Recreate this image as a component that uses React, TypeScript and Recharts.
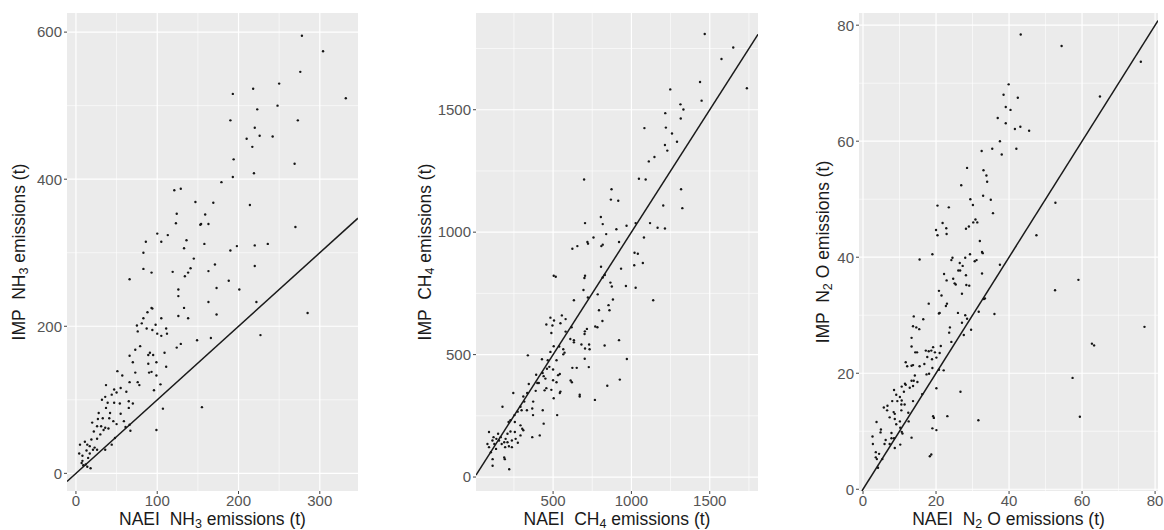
import { ScatterChart, Scatter, XAxis, YAxis, CartesianGrid, ReferenceLine } from 'recharts'

const FONT = '"Liberation Sans", Arial, Helvetica, sans-serif'

// NH3 (t): NAEI on x, IMP on y
const nh3Naei = [
  278, 304, 276, 332, 250, 218, 193, 248, 223, 190, 273, 220, 210, 226, 242, 217, 194, 269, 193, 219,
  179, 121, 129, 147, 169, 214, 124, 159, 123, 153, 154, 163, 270, 100, 113, 86, 105, 136, 158, 133,
  198, 220, 236, 83, 190, 145, 66, 93, 83, 119, 141, 138, 171, 163, 220, 134, 188, 201, 126, 173,
  126, 163, 222, 93, 88, 94, 133, 126, 138, 173, 285, 83, 81, 75, 76, 87, 94, 105, 98, 100,
  105, 111, 112, 227, 149, 166, 79, 124, 129, 73, 66, 89, 91, 95, 109, 70, 89, 99, 111, 51,
  57, 73, 90, 93, 99, 66, 76, 78, 104, 37, 96, 47, 55, 50, 62, 36, 44, 65, 70, 32,
  39, 47, 54, 37, 65, 107, 155, 28, 42, 55, 59, 20, 27, 33, 41, 46, 50, 26, 31, 36,
  34, 40, 61, 66, 67, 22, 30, 99, 48, 26, 44, 36, 19, 14, 17, 23, 26, 5, 11, 4,
  8, 13, 15, 17, 21, 7, 9, 12, 18, 14, 8,
]
const nh3Imp = [
  595, 574, 546, 510, 530, 523, 516, 500, 495, 480, 480, 470, 455, 459, 458, 444, 427, 421, 403, 408,
  396, 385, 387, 369, 368, 365, 353, 352, 340, 338, 339, 339, 335, 326, 324, 315, 315, 317, 312, 306,
  309, 310, 312, 300, 303, 292, 264, 273, 278, 274, 279, 273, 284, 275, 282, 268, 262, 250, 250, 252,
  241, 233, 233, 225, 219, 224, 225, 214, 211, 216, 218, 211, 204, 201, 193, 197, 195, 211, 202, 190,
  187, 197, 190, 188, 181, 184, 173, 171, 176, 168, 160, 161, 164, 161, 164, 151, 149, 151, 145, 139,
  133, 137, 137, 138, 133, 124, 124, 120, 121, 120, 113, 114, 116, 110, 111, 104, 107, 98, 95, 100,
  96, 96, 95, 89, 89, 88, 90, 82, 82, 81, 71, 69, 74, 75, 75, 71, 67, 64, 64, 62,
  59, 61, 63, 66, 58, 57, 53, 59, 48, 47, 39, 32, 46, 39, 37, 35, 32, 39, 43, 27,
  24, 31, 21, 27, 32, 14, 11, 12, 7, 9, 17,
]

// CH4 (t)
const ch4Naei = [
  1468, 1650, 1575, 1737, 1438, 1248, 1448, 1313, 1332, 1216, 1315, 1083, 1220, 1259, 1291, 1214, 1229, 1147, 1111, 1048,
  1091, 698, 1317, 1325, 1203, 873, 869, 916, 805, 704, 817, 1027, 1119, 1167, 1214, 969, 904, 839, 758, 1080,
  719, 723, 921, 817, 808, 623, 655, 1020, 1041, 1073, 1018, 806, 934, 830, 704, 700, 504, 517, 817, 866,
  875, 965, 1027, 694, 1139, 722, 633, 785, 882, 854, 793, 860, 815, 556, 580, 483, 506, 457, 496, 547,
  618, 769, 783, 716, 703, 701, 580, 489, 610, 633, 633, 921, 504, 539, 681, 730, 829, 704, 565, 733,
  483, 339, 573, 702, 971, 522, 429, 466, 476, 392, 433, 461, 500, 543, 532, 623, 651, 728, 565, 451,
  500, 522, 612, 620, 926, 457, 489, 846, 446, 504, 543, 547, 670, 670, 767, 399, 440, 409, 389, 345,
  335, 373, 310, 316, 333, 246, 177, 292, 299, 274, 254, 228, 216, 256, 292, 303, 367, 372, 434, 440,
  526, 415, 367, 310, 256, 228, 209, 292, 261, 275, 209, 197, 237, 149, 166, 138, 155, 172, 194, 218,
  237, 91, 120, 113, 81, 125, 91, 103, 114, 188, 192, 114, 220, 136, 188,
]
const ch4Imp = [
  1809, 1754, 1707, 1588, 1613, 1583, 1537, 1522, 1501, 1486, 1464, 1425, 1427, 1403, 1369, 1356, 1333, 1307, 1289, 1218,
  1215, 1215, 1175, 1098, 1109, 1175, 1133, 1128, 1062, 1037, 1033, 1037, 1037, 1018, 1015, 1026, 1012, 992, 978, 978,
  960, 953, 960, 949, 943, 932, 943, 916, 912, 874, 865, 859, 851, 825, 822, 813, 822, 818, 815, 794,
  778, 780, 773, 764, 722, 733, 722, 746, 725, 702, 681, 681, 637, 660, 645, 651, 639, 623, 619, 628,
  612, 615, 612, 605, 595, 584, 594, 588, 564, 559, 550, 559, 534, 533, 541, 541, 537, 525, 522, 522,
  511, 497, 508, 483, 482, 477, 481, 477, 450, 418, 425, 442, 439, 421, 416, 446, 446, 449, 501, 402,
  395, 387, 394, 387, 398, 363, 356, 373, 354, 322, 343, 349, 329, 336, 315, 384, 412, 384, 352, 380,
  343, 308, 329, 308, 273, 343, 287, 287, 273, 267, 253, 232, 225, 225, 211, 197, 280, 253, 273, 218,
  253, 170, 163, 191, 184, 186, 177, 170, 156, 140, 142, 156, 149, 177, 163, 156, 149, 135, 122, 126,
  122, 184, 163, 149, 135, 135, 122, 101, 73, 80, 73, 46, 32, 115, 142,
]

// N2O (t)
const n2oNaei = [
  43.2, 54.4, 76.1, 39.9, 38.5, 42.4, 64.9, 39.1, 40.4, 36.9, 39.1, 43.1, 41.6, 45.5, 37.5, 42.0, 35.4, 32.5, 38.0, 28.5,
  33.0, 33.8, 34.0, 26.9, 32.9, 29.4, 35.0, 30.1, 52.7, 20.4, 23.5, 35.6, 30.8, 30.2, 31.3, 21.8, 20.0, 22.8, 28.2, 29.0,
  20.4, 22.9, 47.5, 32.0, 32.6, 32.8, 29.3, 19.0, 15.5, 24.5, 24.2, 28.0, 30.6, 31.1, 26.5, 27.3, 37.5, 26.1, 26.6, 32.6,
  22.2, 22.9, 24.7, 25.1, 25.4, 59.0, 28.2, 28.3, 29.1, 52.6, 20.8, 21.5, 27.1, 22.7, 23.0, 18.0, 33.4, 33.1, 20.8, 21.0,
  26.0, 36.0, 31.7, 28.0, 13.9, 16.5, 28.5, 13.7, 14.6, 15.4, 27.1, 29.6, 23.8, 23.6, 77.1, 13.3, 27.6, 24.2, 62.7, 63.3,
  13.3, 21.3, 17.2, 18.7, 19.2, 19.7, 21.0, 14.3, 14.8, 18.0, 17.6, 20.1, 18.9, 16.8, 11.7, 12.1, 13.3, 13.7, 15.5, 19.0,
  20.8, 22.1, 18.1, 17.4, 14.2, 57.4, 13.3, 13.9, 14.9, 11.5, 11.7, 13.7, 20.1, 10.6, 8.5, 12.8, 16.2, 11.2, 9.1, 10.1,
  26.7, 8.0, 9.4, 10.6, 5.7, 6.7, 6.6, 8.4, 8.7, 12.4, 13.7, 10.5, 11.4, 10.5, 7.3, 8.7, 10.1, 9.1, 12.5, 10.2,
  3.7, 4.9, 4.8, 7.8, 10.6, 10.8, 19.2, 19.4, 23.1, 31.6, 19.0, 20.1, 2.6, 2.7, 6.2, 5.9, 7.8, 8.5, 7.3, 10.2,
  13.3, 8.7, 3.5, 4.4, 3.5, 3.8, 5.3, 4.1, 18.7, 18.3, 59.4,
]
const n2oImp = [
  78.4, 76.4, 73.7, 69.8, 68.0, 67.5, 67.7, 65.9, 65.4, 64.0, 63.1, 62.5, 62.1, 61.8, 60.0, 58.7, 58.7, 58.3, 57.7, 55.4,
  55.0, 54.1, 53.0, 52.4, 50.6, 50.0, 49.9, 49.0, 49.4, 48.9, 48.6, 47.6, 46.5, 46.0, 46.0, 45.9, 44.7, 45.0, 44.9, 45.3,
  43.8, 44.0, 43.8, 42.8, 40.9, 40.7, 40.5, 40.5, 39.6, 39.9, 39.5, 39.9, 39.3, 39.5, 39.0, 38.5, 38.7, 37.7, 37.7, 37.2,
  37.1, 36.0, 36.3, 35.5, 35.3, 36.1, 36.9, 35.2, 35.1, 34.3, 34.2, 33.4, 33.7, 31.6, 32.0, 32.0, 32.9, 32.8, 30.3, 30.4,
  30.4, 30.2, 30.6, 30.0, 29.8, 29.3, 29.4, 28.1, 27.9, 27.6, 28.7, 27.5, 27.9, 27.0, 28.0, 26.1, 26.6, 25.4, 25.1, 24.8,
  24.6, 24.7, 23.9, 23.9, 24.5, 23.6, 23.5, 23.6, 23.6, 23.8, 22.8, 22.7, 22.4, 21.6, 21.9, 21.2, 21.3, 21.4, 21.2, 20.9,
  20.6, 20.5, 19.9, 19.8, 19.6, 19.2, 18.7, 18.7, 18.5, 18.2, 18.0, 17.8, 17.4, 17.7, 17.1, 17.5, 16.4, 16.8, 16.3, 15.9,
  16.8, 15.2, 15.2, 15.3, 14.1, 14.4, 13.6, 13.3, 13.0, 13.2, 15.2, 14.6, 14.6, 13.6, 12.4, 12.1, 11.7, 11.2, 11.7, 10.6,
  11.6, 10.3, 9.8, 9.7, 9.9, 9.6, 12.6, 12.3, 12.6, 11.9, 10.5, 10.2, 9.1, 7.8, 8.5, 7.8, 8.8, 8.8, 7.8, 7.7,
  8.9, 7.1, 6.4, 6.1, 5.5, 5.2, 5.2, 3.7, 6.0, 5.7, 12.5,
]

const nh3XTicks = [0, 100, 200, 300]
const nh3YTicks = [0, 200, 400, 600]
const nh3XMinor = [50, 150, 250]
const nh3YMinor = [100, 300, 500]

const ch4XTicks = [500, 1000, 1500]
const ch4YTicks = [0, 500, 1000, 1500]
const ch4XMinor = [250, 750, 1250, 1750]
const ch4YMinor = [250, 750, 1250, 1750]

const n2oXTicks = [0, 20, 40, 60, 80]
const n2oYTicks = [0, 20, 40, 60, 80]
const n2oXMinor = [10, 30, 50, 70]
const n2oYMinor = [10, 30, 50, 70]

type Title = [string, string, string]

function Dot(props: any) {
  const { cx, cy } = props
  if (cx == null || cy == null) return null
  return <circle cx={cx} cy={cy} r={1.2} fill="#151515" />
}

function TitleText({ x, y, parts, rotate }: { x: number; y: number; parts: Title; rotate?: boolean }) {
  return (
    <text
      x={x}
      y={y}
      textAnchor="middle"
      fontFamily={FONT}
      fontSize={17.5}
      fill="#1a1a1a"
      style={{ whiteSpace: 'pre' }}
      transform={rotate ? `rotate(-90, ${x}, ${y})` : undefined}
    >
      <tspan>{parts[0]}</tspan>
      <tspan dy={3} fontSize={12.5}>{parts[1]}</tspan>
      <tspan dy={-3}>{parts[2]}</tspan>
    </text>
  )
}

interface PanelProps {
  left: number
  width: number
  yAxisWidth: number
  rightMargin: number
  xs: number[]
  ys: number[]
  xDomain: [number, number]
  yDomain: [number, number]
  xTicks: number[]
  yTicks: number[]
  xMinor: number[]
  yMinor: number[]
  xTitle: Title
  yTitle: Title
  yTitleX: number
}

function Panel(p: PanelProps) {
  const pts = p.xs.map((x, i) => ({ x, y: p.ys[i] }))
  const lo = Math.max(p.xDomain[0], p.yDomain[0])
  const hi = Math.min(p.xDomain[1], p.yDomain[1])
  const tick = { fill: '#555', fontSize: 15, fontFamily: FONT }

  return (
    <div style={{ position: 'absolute', left: p.left, top: 0 }}>
      <ScatterChart
        width={p.width}
        height={530}
        margin={{ top: 13, right: p.rightMargin, left: 0, bottom: 0 }}
      >
        <CartesianGrid
          fill="#EBEBEB"
          stroke="#ffffff"
          strokeWidth={0.6}
          horizontalValues={p.yMinor}
          verticalValues={p.xMinor}
        />
        <CartesianGrid
          stroke="#ffffff"
          strokeWidth={1.2}
          horizontalValues={p.yTicks}
          verticalValues={p.xTicks}
        />
        <XAxis
          type="number"
          dataKey="x"
          domain={p.xDomain}
          ticks={p.xTicks}
          allowDataOverflow
          height={39}
          tick={tick}
          tickSize={3}
          tickMargin={1}
          axisLine={false}
          tickLine={{ stroke: '#444' }}
          label={(lp: any) => {
            const vb = lp.viewBox
            return <TitleText x={vb.x + vb.width / 2} y={vb.y + 34} parts={p.xTitle} />
          }}
        />
        <YAxis
          type="number"
          dataKey="y"
          domain={p.yDomain}
          ticks={p.yTicks}
          allowDataOverflow
          width={p.yAxisWidth}
          tick={tick}
          tickSize={3}
          tickMargin={2}
          axisLine={false}
          tickLine={{ stroke: '#444' }}
          label={(lp: any) => {
            const vb = lp.viewBox
            return <TitleText x={vb.x + p.yTitleX} y={vb.y + vb.height / 2} parts={p.yTitle} rotate />
          }}
        />
        <Scatter data={pts} shape={Dot} isAnimationActive={false} />
        <ReferenceLine
          segment={[{ x: lo, y: lo }, { x: hi, y: hi }]}
          stroke="#1a1a1a"
          strokeWidth={1.5}
          ifOverflow="hidden"
        />
      </ScatterChart>
    </div>
  )
}

export default function App() {
  return (
    <div style={{ position: 'absolute', left: 0, top: 0, width: 1164, height: 530, background: '#fff' }}>
      <Panel
        left={0} width={360} yAxisWidth={67} rightMargin={2}
        xs={nh3Naei} ys={nh3Imp}
        xDomain={[-11, 347]} yDomain={[-24, 626]}
        xTicks={nh3XTicks} yTicks={nh3YTicks} xMinor={nh3XMinor} yMinor={nh3YMinor}
        xTitle={['NAEI  NH', '3', ' emissions (t)']}
        yTitle={['IMP  NH', '3', ' emissions (t)']}
        yTitleX={25}
      />
      <Panel
        left={380} width={380} yAxisWidth={96} rightMargin={2}
        xs={ch4Naei} ys={ch4Imp}
        xDomain={[8, 1808]} yDomain={[-57, 1895]}
        xTicks={ch4XTicks} yTicks={ch4YTicks} xMinor={ch4XMinor} yMinor={ch4YMinor}
        xTitle={['NAEI  CH', '4', ' emissions (t)']}
        yTitle={['IMP  CH', '4', ' emissions (t)']}
        yTitleX={51}
      />
      <Panel
        left={770} width={394} yAxisWidth={89} rightMargin={6}
        xs={n2oNaei} ys={n2oImp}
        xDomain={[-1.1, 80.8]} yDomain={[-0.3, 82.1]}
        xTicks={n2oXTicks} yTicks={n2oYTicks} xMinor={n2oXMinor} yMinor={n2oYMinor}
        xTitle={['NAEI  N', '2', ' O emissions (t)']}
        yTitle={['IMP  N', '2', ' O emissions (t)']}
        yTitleX={59}
      />
    </div>
  )
}
